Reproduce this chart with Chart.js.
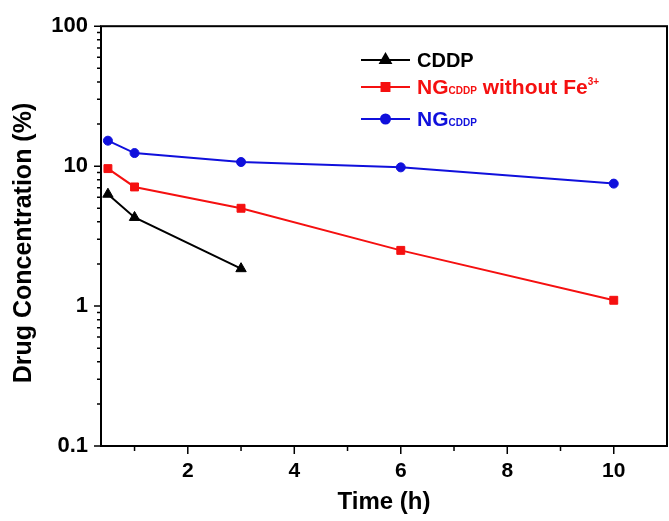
<!DOCTYPE html>
<html>
<head>
<meta charset="utf-8">
<script src="https://cdn.jsdelivr.net/npm/chart.js@4"></script>
<style>
  html, body { margin: 0; padding: 0; background: #fff; }
  #wrap { width: 669px; height: 521px; }
</style>
</head>
<body>
<div id="wrap"><canvas id="drugChart" width="669" height="521"></canvas></div>
<script>
// time points (h)
const timeCDDP = [0.5, 1, 3];
const timeNG = [0.5, 1, 3, 6, 10];

// drug concentration (%)
const cddp = [6.3, 4.3, 1.85];
const ngNoFe = [9.6, 7.1, 5.0, 2.5, 1.1];
const ngCddp = [15.2, 12.4, 10.7, 9.8, 7.5];

// tick labels
const xTicks = [2, 4, 6, 8, 10];
const xMinor = [1, 3, 5, 7, 9];
const yTicks = [0.1, 1, 10, 100];

const font = "'Liberation Sans', Arial, sans-serif";
const red = "#f51010";
const blue = "#1010dc";

function pts(xs, ys) {
  return xs.map((x, i) => ({ x: x, y: ys[i] }));
}

// legend lines: each piece is [text, size, baseline shift]
const legendRows = [
  { color: "#000", style: "triangle", radius: 6, y: 60, parts: [["CDDP", 20, 0]] },
  { color: red, style: "rect", radius: 5.6, y: 87, parts: [["NG", 21, 0], ["CDDP", 10, 0], [" without Fe", 21, 0], ["3+", 10, -9]] },
  { color: blue, style: "circle", radius: 4.5, y: 119, parts: [["NG", 21, 0], ["CDDP", 10, 0]] }
];

// frame, tick marks and legend
const extras = {
  id: "extras",
  afterDraw(chart) {
    const ctx = chart.ctx;
    const a = chart.chartArea;
    const xs = chart.scales.x;
    const ys = chart.scales.y;
    ctx.save();
    ctx.strokeStyle = "#000";
    ctx.lineWidth = 2;
    ctx.strokeRect(a.left, a.top, a.right - a.left, a.bottom - a.top);

    ctx.lineWidth = 1.5;
    ctx.beginPath();
    xTicks.forEach(v => {
      const p = xs.getPixelForValue(v);
      ctx.moveTo(p, a.bottom); ctx.lineTo(p, a.bottom + 8);
    });
    xMinor.forEach(v => {
      const p = xs.getPixelForValue(v);
      ctx.moveTo(p, a.bottom); ctx.lineTo(p, a.bottom + 5);
    });
    yTicks.forEach(v => {
      const p = ys.getPixelForValue(v);
      ctx.moveTo(a.left - 7, p); ctx.lineTo(a.left, p);
      if (v < 100) {
        for (let k = 2; k <= 9; k++) {
          const q = ys.getPixelForValue(v * k);
          ctx.moveTo(a.left - 4, q); ctx.lineTo(a.left, q);
        }
      }
    });
    ctx.stroke();

    legendRows.forEach(r => {
      ctx.strokeStyle = r.color;
      ctx.fillStyle = r.color;
      ctx.lineWidth = 2;
      ctx.beginPath();
      ctx.moveTo(361, r.y); ctx.lineTo(410, r.y);
      ctx.stroke();
      Chart.helpers.drawPoint(ctx, { pointStyle: r.style, radius: r.radius, borderWidth: 1, rotation: 0 }, 385.5, r.y);
      ctx.fill();
      let x = 417;
      const base = r.y + 7;
      ctx.textBaseline = "alphabetic";
      ctx.textAlign = "left";
      r.parts.forEach(([t, size, dy]) => {
        ctx.font = "bold " + size + "px " + font;
        ctx.fillText(t, x, base + dy);
        x += ctx.measureText(t).width;
      });
    });
    ctx.restore();
  }
};

new Chart(document.getElementById("drugChart").getContext("2d"), {
  type: "line",
  data: {
    datasets: [
      {
        label: "CDDP",
        data: pts(timeCDDP, cddp),
        borderColor: "#000",
        backgroundColor: "#000",
        pointStyle: "triangle",
        pointRadius: 6
      },
      {
        label: "NG CDDP without Fe3+",
        data: pts(timeNG, ngNoFe),
        borderColor: red,
        backgroundColor: red,
        pointStyle: "rect",
        pointRadius: 5.6
      },
      {
        label: "NG CDDP",
        data: pts(timeNG, ngCddp),
        borderColor: blue,
        backgroundColor: blue,
        pointStyle: "circle",
        pointRadius: 4.5
      }
    ]
  },
  options: {
    responsive: false,
    animation: false,
    layout: { autoPadding: false, padding: { top: 25, right: 2, left: 0, bottom: 0 } },
    elements: {
      line: { borderWidth: 2, tension: 0 },
      point: { borderWidth: 1, hoverRadius: 5 }
    },
    scales: {
      x: {
        type: "linear",
        min: 0.37,
        max: 11,
        afterBuildTicks: s => { s.ticks = xTicks.map(v => ({ value: v })); },
        afterFit: s => { s.height = 75; s.paddingLeft = 0; s.paddingRight = 0; },
        grid: { display: false, drawTicks: false },
        border: { display: false },
        ticks: {
          color: "#000",
          padding: 13,
          maxRotation: 0,
          font: { family: font, size: 21, weight: "bold" }
        },
        title: {
          display: true,
          text: "Time (h)",
          color: "#000",
          padding: { top: 0, bottom: 4 },
          font: { family: font, size: 24, weight: "bold" }
        }
      },
      y: {
        type: "logarithmic",
        min: 0.1,
        max: 100,
        afterBuildTicks: s => { s.ticks = yTicks.map(v => ({ value: v })); },
        afterFit: s => { s.width = 101; },
        grid: { display: false, drawTicks: false },
        border: { display: false },
        ticks: {
          color: "#000",
          padding: 13,
          callback: v => String(v),
          font: { family: font, size: 22, weight: "bold" }
        },
        title: {
          display: true,
          text: "Drug Concentration (%)  ",
          color: "#000",
          padding: { top: 9, bottom: 0 },
          font: { family: font, size: 25, weight: "bold" }
        }
      }
    },
    plugins: {
      legend: { display: false },
      tooltip: { enabled: false }
    }
  },
  plugins: [extras]
});
</script>
</body>
</html>
